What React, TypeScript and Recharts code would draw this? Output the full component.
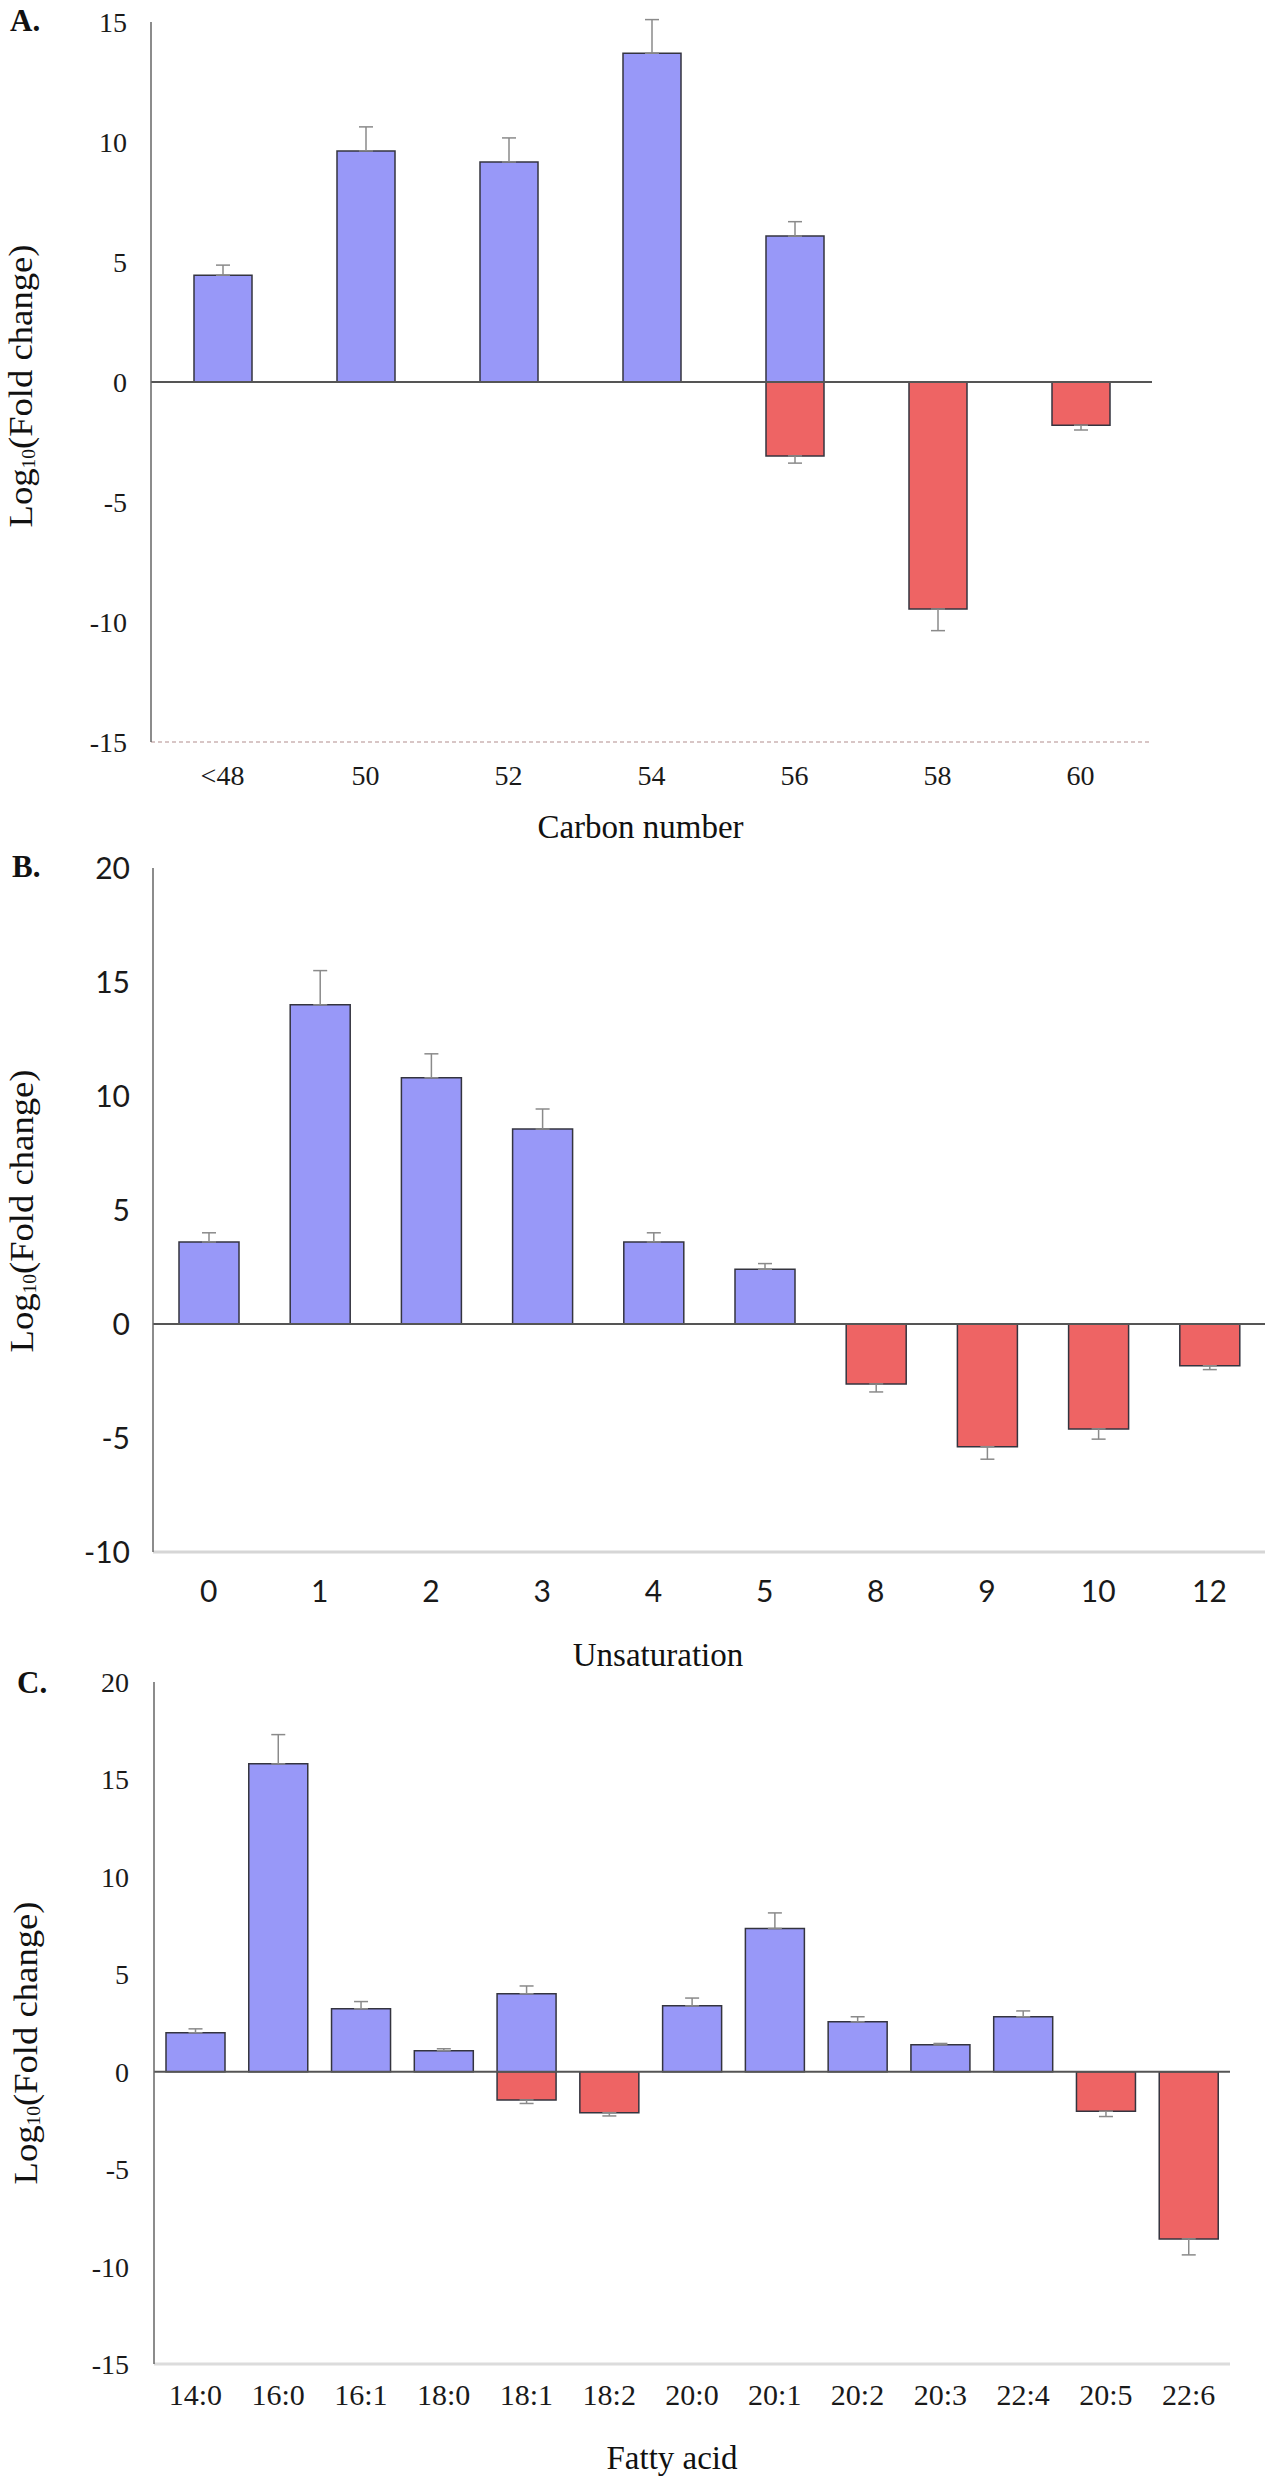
import React from "react";
import {
  BarChart,
  Bar,
  XAxis,
  YAxis,
  ErrorBar,
  ReferenceLine,
  Label,
} from "recharts";

// A. carbon number
const carbonNumbers = ["<48", "50", "52", "54", "56", "58", "60"];
const carbonUp = [4.45, 9.63, 9.17, 13.7, 6.08, null, null];
const carbonUpErr = [0.42, 1.0, 1.0, 1.4, 0.6, null, null];
const carbonDown = [null, null, null, null, -3.08, -9.46, -1.8];
const carbonDownErr = [null, null, null, null, 0.3, 0.9, 0.2];
const carbonTicks = [-15, -10, -5, 0, 5, 10, 15];

// B. unsaturation
const unsaturation = ["0", "1", "2", "3", "4", "5", "8", "9", "10", "12"];
const unsatUp = [3.6, 14.0, 10.8, 8.55, 3.6, 2.4, null, null, null, null];
const unsatUpErr = [0.4, 1.5, 1.05, 0.88, 0.4, 0.25, null, null, null, null];
const unsatDown = [null, null, null, null, null, null, -2.63, -5.38, -4.6, -1.83];
const unsatDownErr = [null, null, null, null, null, null, 0.35, 0.55, 0.45, 0.17];
const unsatTicks = [-10, -5, 0, 5, 10, 15, 20];

// C. fatty acid
const fattyAcids = [
  "14:0", "16:0", "16:1", "18:0", "18:1", "18:2", "20:0",
  "20:1", "20:2", "20:3", "22:4", "20:5", "22:6",
];
const fattyUp = [2.0, 15.8, 3.23, 1.08, 4.0, null, 3.38, 7.35, 2.56, 1.38, 2.82, null, null];
const fattyUpErr = [0.2, 1.5, 0.37, 0.1, 0.4, null, 0.4, 0.8, 0.26, 0.07, 0.3, null, null];
const fattyDown = [null, null, null, null, -1.45, -2.1, null, null, null, null, null, -2.03, -8.58];
const fattyDownErr = [null, null, null, null, 0.18, 0.17, null, null, null, null, null, 0.27, 0.82];
const fattyTicks = [-15, -10, -5, 0, 5, 10, 15, 20];

type Num = number | null;

interface Row {
  name: string;
  up: Num;
  upErr: number[] | null;
  down: Num;
  downErr: number[] | null;
}

// error bars only go outward from the bar end
const buildRows = (
  cats: string[],
  up: Num[],
  upErr: Num[],
  down: Num[],
  downErr: Num[]
): Row[] =>
  cats.map((name, i) => ({
    name,
    up: up[i],
    upErr: upErr[i] == null ? null : [0, upErr[i] as number],
    down: down[i],
    downErr: downErr[i] == null ? null : [downErr[i] as number, 0],
  }));

const SERIF = "'Liberation Serif', 'Times New Roman', serif";
const SANS = "Lato, 'Liberation Sans', sans-serif";
const BLUE = "#9898f8";
const RED = "#ee6464";
const EDGE = "#34343f";

interface PanelProps {
  letter: string;
  rows: Row[];
  top: number;
  height: number;
  domain: [number, number];
  ticks: number[];
  axisWidth: number;
  marginTop: number;
  marginRight: number;
  xAxisHeight: number;
  barSize: number;
  tickFont: string;
  yTickSize: number;
  xTickSize: number;
  yTickGap: number;
  xTickGap: number;
  bottomLine: any;
  xTitle: string;
  xTitleDx: number;
  xTitleDy: number;
  yTitleX: number;
  yTitleY: number;
  letterX: number;
  letterY: number;
}

const Panel: React.FC<PanelProps> = (p) => (
  <div style={{ position: "absolute", left: 0, top: p.top }}>
    <BarChart
      width={1288}
      height={p.height}
      data={p.rows}
      stackOffset="sign"
      margin={{ top: p.marginTop, right: p.marginRight, bottom: 0, left: 0 }}
    >
      <XAxis
        dataKey="name"
        height={p.xAxisHeight}
        interval={0}
        tickLine={false}
        tickSize={0}
        tickMargin={p.xTickGap}
        axisLine={p.bottomLine}
        tick={{ fontFamily: p.tickFont, fontSize: p.xTickSize, fill: "#1a1a1a" }}
      >
        <Label
          content={(props: any) => {
            const vb = props.viewBox;
            return (
              <text
                x={vb.x + vb.width / 2 + p.xTitleDx}
                y={vb.y + p.xTitleDy}
                textAnchor="middle"
                dominantBaseline="central"
                fontFamily={SERIF}
                fontSize={33}
                fill="#111"
              >
                {p.xTitle}
              </text>
            );
          }}
        />
      </XAxis>
      <YAxis
        type="number"
        domain={p.domain}
        ticks={p.ticks}
        interval={0}
        width={p.axisWidth}
        tickLine={false}
        tickSize={0}
        tickMargin={p.yTickGap}
        axisLine={{ stroke: "#666", strokeWidth: 1.5 }}
        tick={{ fontFamily: p.tickFont, fontSize: p.yTickSize, fill: "#1a1a1a" }}
      >
        <Label
          content={() => (
            <g>
              <text
                x={p.letterX}
                y={p.letterY}
                fontFamily={SERIF}
                fontSize={31}
                fontWeight="bold"
                fill="#111"
              >
                {p.letter}
              </text>
              <text
                transform={`translate(${p.yTitleX},${p.yTitleY}) rotate(-90)`}
                textAnchor="middle"
                dominantBaseline="central"
                fontFamily={SERIF}
                fontSize={34}
                fill="#111"
                textLength={283}
                lengthAdjust="spacingAndGlyphs"
              >
                Log
                <tspan fontSize={18} dy={9}>
                  10
                </tspan>
                <tspan dy={-9}>(Fold change)</tspan>
              </text>
            </g>
          )}
        />
      </YAxis>
      <ReferenceLine y={0} stroke="#555" strokeWidth={2} />
      <Bar
        dataKey="up"
        stackId="s"
        fill={BLUE}
        stroke={EDGE}
        strokeWidth={1.5}
        barSize={p.barSize}
        isAnimationActive={false}
      >
        <ErrorBar dataKey="upErr" width={7} stroke="#8a8a8a" strokeWidth={1.5} />
      </Bar>
      <Bar
        dataKey="down"
        stackId="s"
        fill={RED}
        stroke={EDGE}
        strokeWidth={1.5}
        barSize={p.barSize}
        isAnimationActive={false}
      >
        <ErrorBar dataKey="downErr" width={7} stroke="#8a8a8a" strokeWidth={1.5} />
      </Bar>
    </BarChart>
  </div>
);

const App: React.FC = () => (
  <div
    style={{
      position: "absolute",
      left: 0,
      top: 0,
      width: 1288,
      height: 2480,
      background: "#fff",
    }}
  >
    <Panel
      letter="A."
      rows={buildRows(carbonNumbers, carbonUp, carbonUpErr, carbonDown, carbonDownErr)}
      top={0}
      height={845}
      domain={[-15, 15]}
      ticks={carbonTicks}
      axisWidth={151}
      marginTop={22}
      marginRight={136}
      xAxisHeight={103}
      barSize={58}
      tickFont={SERIF}
      yTickSize={28}
      xTickSize={28}
      yTickGap={24}
      xTickGap={23}
      bottomLine={{ stroke: "#d8c6c6", strokeWidth: 2, strokeDasharray: "4 3" }}
      xTitle="Carbon number"
      xTitleDx={-11}
      xTitleDy={85}
      yTitleX={20}
      yTitleY={386}
      letterX={10}
      letterY={31}
    />
    <Panel
      letter="B."
      rows={buildRows(unsaturation, unsatUp, unsatUpErr, unsatDown, unsatDownErr)}
      top={845}
      height={835}
      domain={[-10, 20]}
      ticks={unsatTicks}
      axisWidth={153}
      marginTop={23}
      marginRight={23}
      xAxisHeight={128}
      barSize={60}
      tickFont={SANS}
      yTickSize={30}
      xTickSize={30}
      yTickGap={23}
      xTickGap={29}
      bottomLine={{ stroke: "#d6d6d6", strokeWidth: 3 }}
      xTitle="Unsaturation"
      xTitleDx={-51}
      xTitleDy={103}
      yTitleX={21}
      yTitleY={366}
      letterX={12}
      letterY={32}
    />
    <Panel
      letter="C."
      rows={buildRows(fattyAcids, fattyUp, fattyUpErr, fattyDown, fattyDownErr)}
      top={1660}
      height={820}
      domain={[-15, 20]}
      ticks={fattyTicks}
      axisWidth={154}
      marginTop={22}
      marginRight={58}
      xAxisHeight={116}
      barSize={59}
      tickFont={SERIF}
      yTickSize={28}
      xTickSize={30}
      yTickGap={25}
      xTickGap={20}
      bottomLine={{ stroke: "#dcdcdc", strokeWidth: 3 }}
      xTitle="Fatty acid"
      xTitleDx={-20}
      xTitleDy={94}
      yTitleX={25}
      yTitleY={383}
      letterX={17}
      letterY={33}
    />
  </div>
);

export default App;
